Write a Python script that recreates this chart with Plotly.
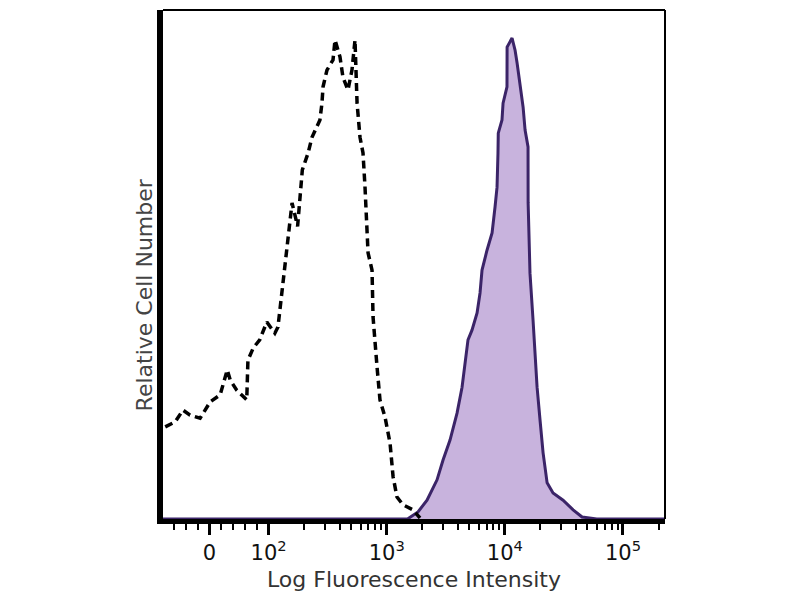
import numpy as np
import plotly.graph_objects as go

# isotype control (dashed) - intensity / relative count
iso_intensity = [-75, -58, -45, -33, -16, 1, 18, 30, 35, 46, 63, 65, 74, 85, 97,
                 113, 120, 132, 143, 152, 158, 176, 193, 216, 233, 272, 283, 289,
                 312, 351, 365, 402, 426, 470, 508, 539, 561, 594, 630, 655, 681,
                 695, 751, 766, 828, 877, 968, 1067, 1132, 1222, 1374, 1668, 1914]
iso_count = [18.1, 19.1, 21.4, 20.4, 19.8, 23.0, 24.4, 29.3, 27.3, 25.3, 23.4, 31.2,
             33.6, 35.2, 38.7, 36.5, 37.7, 46.4, 52.8, 58.7, 62.1, 57.5, 68.6, 71.9,
             75.0, 78.4, 81.7, 84.9, 88.2, 90.2, 94.1, 90.8, 86.8, 84.3, 88.2, 94.1,
             81.7, 75.0, 71.9, 65.2, 57.4, 52.3, 48.9, 39.7, 29.9, 23.4, 20.0, 14.9,
             8.3, 4.3, 2.8, 1.8, 0.2]

# stained sample (filled purple)
stain_intensity = [-79, 1500, 1841, 2194, 2667, 2999, 3436, 3939, 4343, 4603, 4877,
                   5272, 5821, 6166, 6412, 7063, 7798, 8260, 8590, 8750, 8800, 9462,
                   9660, 10430, 10450, 11510, 12210, 12700, 13460, 14280, 14840,
                   15720, 15750, 16330, 17330, 18030, 18750, 19870, 21080, 22800,
                   25590, 31120, 37840, 45080, 60000, 227000]
stain_count = [0, 0, 1.4, 3.7, 7.7, 11.6, 15.5, 20.8, 25.9, 30.6, 35.2, 37.1, 40.5,
               44.4, 48.9, 52.8, 56.2, 61.3, 65.2, 71.9, 75.8, 78.4, 81.7, 84.9,
               92.7, 94.5, 92.1, 89.6, 84.9, 80.9, 76.4, 73.1, 62.1, 48.3, 39.1,
               32.6, 25.9, 19.4, 13.0, 7.1, 5.1, 3.7, 1.8, 0.4, 0, 0]

major_vals = [0, 1e2, 1e3, 1e4, 1e5]
major_text = ['0', '10<sup>2</sup>', '10<sup>3</sup>', '10<sup>4</sup>', '10<sup>5</sup>']
minor_vals = [-60, -40, -20, 20, 40, 60, 80] + \
    [m * 10 ** d for d in (2, 3, 4) for m in range(2, 10)] + [2e5]


def disp(v):
    """hybrid display scale: linear below 10^2, log10 above"""
    v = np.asarray(v, dtype=float)
    lin = 2 - (100 - v) / 200.0
    lg = np.log10(np.clip(v, 100, None))
    return np.where(v >= 100, lg, lin)


fig = go.Figure()

fig.add_trace(go.Scatter(
    x=disp(stain_intensity), y=stain_count,
    mode='lines', fill='tozeroy',
    fillcolor='#c8b3dd',
    line=dict(color='#3b2468', width=3),
    showlegend=False
))

fig.add_trace(go.Scatter(
    x=disp(iso_intensity), y=iso_count,
    mode='lines',
    line=dict(color='black', width=3.5, dash='8px,5px'),
    showlegend=False
))

# page body adds an 8px offset, so margins are shifted to compensate
fig.update_layout(
    width=800, height=600,
    paper_bgcolor='white', plot_bgcolor='white',
    margin=dict(l=155, r=143, t=2, b=89),
    font=dict(family='DejaVu Sans', color='#222222'),
    xaxis=dict(
        range=[1.106, 5.356],
        tickmode='array',
        tickvals=disp(major_vals),
        ticktext=major_text,
        tickfont=dict(size=21, color='#111111'),
        ticks='outside', ticklen=11, tickwidth=3, tickcolor='black',
        minor=dict(tickmode='array', tickvals=disp(minor_vals),
                   ticks='outside', ticklen=6, tickwidth=2, tickcolor='black'),
        showline=True, linecolor='black', linewidth=5,
        showgrid=False, zeroline=False,
        title=dict(text='Log Fluorescence Intensity',
                   font=dict(size=22, color='#333333'), standoff=9),
    ),
    yaxis=dict(
        range=[0, 100],
        showticklabels=False, ticks='',
        showline=True, linecolor='black', linewidth=6,
        showgrid=False, zeroline=False,
    ),
    shapes=[
        dict(type='line', xref='paper', yref='paper', x0=0, x1=1, y0=1, y1=1,
             line=dict(color='black', width=2)),
        dict(type='line', xref='paper', yref='paper', x0=1, x1=1, y0=0, y1=1,
             line=dict(color='black', width=2)),
    ],
    annotations=[
        dict(text='Relative Cell Number', xref='paper', yref='paper',
             x=-0.066, y=0.44, textangle=-90, showarrow=False,
             font=dict(size=22, color='#444444')),
    ],
)

fig.write_html("out.html")
